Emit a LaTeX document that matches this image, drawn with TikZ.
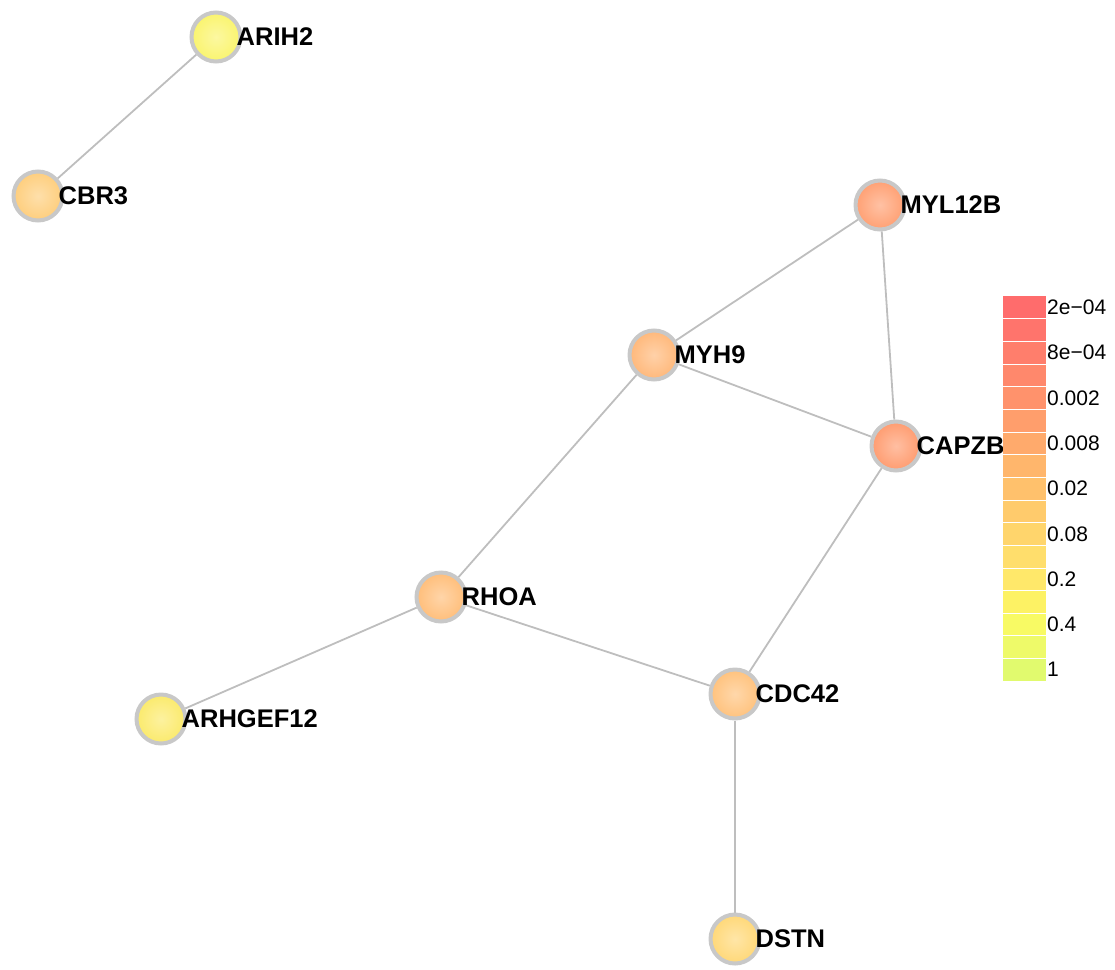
\documentclass[tikz,border=0pt]{standalone}
\usepackage{fontspec}
\setmainfont{Liberation Sans}
\usetikzlibrary{backgrounds}

\definecolor{ringgray}{RGB}{200,200,200}
\definecolor{edgegray}{RGB}{190,190,190}
\definecolor{cArih}{RGB}{250,244,110}
\definecolor{cCbr}{RGB}{254,206,125}
\definecolor{cMyl}{RGB}{255,160,115}
\definecolor{cMyh}{RGB}{255,184,122}
\definecolor{cCap}{RGB}{255,156,112}
\definecolor{cRhoa}{RGB}{255,190,122}
\definecolor{cArhg}{RGB}{251,234,108}
\definecolor{cCdc}{RGB}{255,194,125}
\definecolor{cDstn}{RGB}{255,216,120}

\begin{document}
\begin{tikzpicture}[
    x=1pt, y=-1pt,
    gene/.style={circle, draw=ringgray, line width=4pt,
                 minimum size=49pt, inner sep=0pt,
                 shading=radial, inner color=#1!65!white, outer color=#1},
    glabel/.style={font=\fontsize{25.5}{30}\selectfont\bfseries,
                   inner sep=0pt, label distance=-6pt},
    edge/.style={draw=edgegray, line width=1.8pt},
    band/.style={draw=white, line width=0.6pt},
    tick/.style={font=\fontsize{21}{25}\selectfont, inner sep=0pt, anchor=west}
]
    \useasboundingbox (0,0) rectangle (1115,969);

    % genes
    \node[gene=cArih, label={[glabel]0:ARIH2}] (arih2) at (216,37) {};
    \node[gene=cCbr, label={[glabel]0:CBR3}] (cbr3) at (38,196) {};
    \node[gene=cMyl, label={[glabel]0:MYL12B}] (myl12b) at (880,205) {};
    \node[gene=cMyh, label={[glabel]0:MYH9}] (myh9) at (654,355) {};
    \node[gene=cCap, label={[glabel]0:CAPZB}] (capzb) at (896,446) {};
    \node[gene=cRhoa, label={[glabel]0:RHOA}] (rhoa) at (441,597) {};
    \node[gene=cArhg, label={[glabel]0:ARHGEF12}] (arhgef12) at (161,719) {};
    \node[gene=cCdc, label={[glabel]0:CDC42}] (cdc42) at (735,694) {};
    \node[gene=cDstn, label={[glabel]0:DSTN}] (dstn) at (735,939) {};

    % interactions
    \begin{scope}[on background layer]
        \foreach \a/\b in {arih2/cbr3, myl12b/myh9, myl12b/capzb, myh9/capzb,
                           myh9/rhoa, capzb/cdc42, rhoa/cdc42, rhoa/arhgef12, cdc42/dstn}
            \draw[edge] (\a) -- (\b);
    \end{scope}

    % colour key
    \foreach \k/\r/\g/\b in {1/255/108/108, 2/255/116/108, 3/255/126/108, 4/255/136/108,
                             5/255/146/108, 6/255/158/108, 7/255/170/108, 8/255/182/108,
                             9/255/193/108, 10/255/203/108, 11/255/213/108, 12/255/222/108,
                             13/255/232/106, 14/253/242/100, 15/248/250/100, 16/238/250/105,
                             17/225/250/110} {
        \definecolor{bandcol}{RGB}{\r,\g,\b}
        \fill[bandcol] (1003,{296+(\k-1)*22.65}) rectangle (1046,{296+\k*22.65});
    }
    \foreach \k in {1,...,16}
        \draw[band] (1003,{296+\k*22.65}) -- (1046,{296+\k*22.65});
    \foreach \k/\t in {1/2e−04, 3/8e−04, 5/0.002, 7/0.008, 9/0.02,
                       11/0.08, 13/0.2, 15/0.4, 17/1}
        \node[tick] (key\k) at (1047,{296+(\k-0.5)*22.65}) {\t};
\end{tikzpicture}
\end{document}
